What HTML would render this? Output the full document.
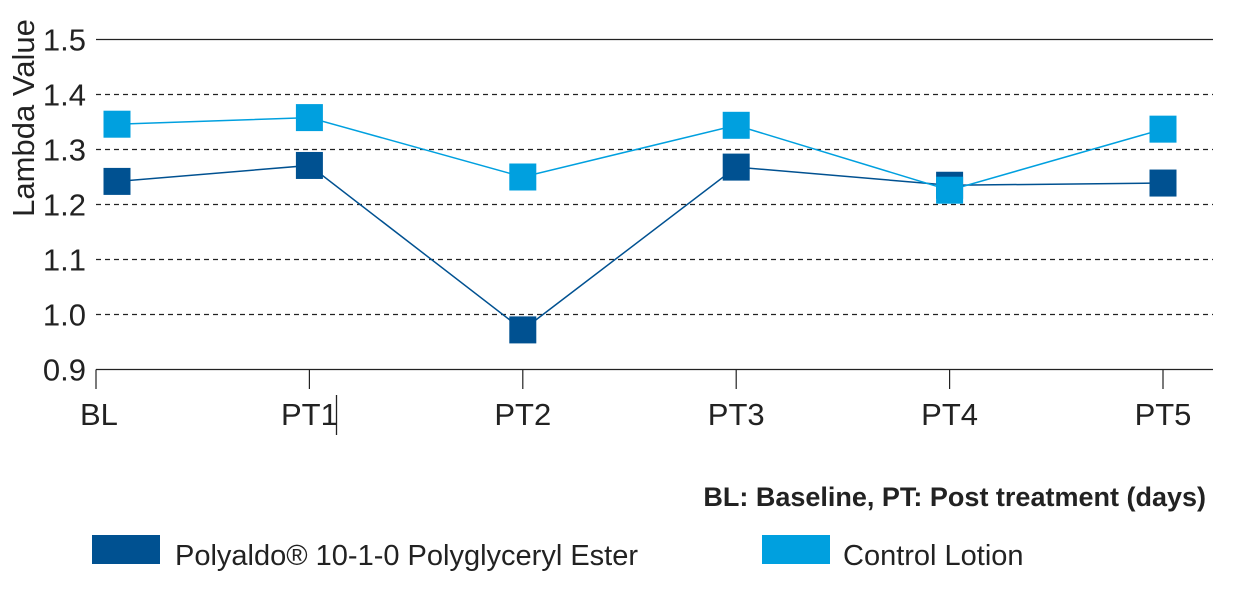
<!DOCTYPE html>
<html><head><meta charset="utf-8">
<style>
body{margin:0;background:#fff;}
svg text{font-family:"Liberation Sans Narrow","Liberation Sans",sans-serif;fill:#222;}
</style></head>
<body>
<svg id="chart" width="1244" height="592" viewBox="0 0 1244 592">
<g id="grid"></g>
<g id="yticks"></g>
<g id="xticks"></g>
<g id="series"></g>
<text transform="translate(34,118) rotate(-90)" text-anchor="middle" font-size="31">Lambda Value</text>
<line x1="336.5" y1="395" x2="336.5" y2="435" stroke="#222" stroke-width="1.3"/>
<text x="1206" y="506" text-anchor="end" font-size="27" font-weight="bold" style="fill:#222">BL: Baseline, PT: Post treatment (days)</text>
<g>
<rect x="92" y="535" width="68" height="29" fill="#005191"/>
<text x="175" y="565" font-size="29">Polyaldo® 10-1-0 Polyglyceryl Ester</text>
</g>
<g>
<rect x="762" y="535" width="68" height="29" fill="#00a0df"/>
<text x="843" y="565" font-size="29">Control Lotion</text>
</g>
</svg>
<script>
const categories=["BL","PT1","PT2","PT3","PT4","PT5"];
const polyaldoValues=[1.242,1.271,0.972,1.268,1.235,1.239];
const controlValues=[1.346,1.358,1.250,1.344,1.226,1.337];
const yTicks=[0.9,1.0,1.1,1.2,1.3,1.4,1.5];
const yTickLabels=["0.9","1.0","1.1","1.2","1.3","1.4","1.5"];
const NS="http://www.w3.org/2000/svg";
const yMin=0.9,yMax=1.5,yBot=369.5,yTop=39.5;
const xLeft=96,xRight=1163;
function y(v){return yBot-(v-yMin)/(yMax-yMin)*(yBot-yTop);}
function x(i){return xLeft+i*(xRight-xLeft)/(categories.length-1);}
function mk(tag,attrs,parent){const e=document.createElementNS(NS,tag);for(const k in attrs)e.setAttribute(k,attrs[k]);parent.appendChild(e);return e;}
function px(i){return i===0?x(i)+21:x(i);}
const grid=document.getElementById('grid'),yt=document.getElementById('yticks'),xt=document.getElementById('xticks'),ser=document.getElementById('series');
yTicks.forEach((t,i)=>{
  const solid=(i===0||i===yTicks.length-1);
  const l=mk('line',{x1:96,x2:1213,y1:y(t),y2:y(t),stroke:'#222','stroke-width':1.2,'stroke-dasharray':solid?'none':'5,4'},grid);
  
  
  const tx=mk('text',{x:86,y:y(t)+11,'text-anchor':'end','font-size':31},yt);
  tx.textContent=yTickLabels[i];
  
  
});
categories.forEach((c,i)=>{
  const l=mk('line',{x1:x(i),x2:x(i),y1:yBot,y2:389,stroke:'#222','stroke-width':1.2},xt);
  
  
  const tx=mk('text',{x:i===0?x(i)-16:x(i),y:425,'text-anchor':i===0?'start':'middle','font-size':31},xt);
  tx.textContent=c;
  
  
});
function drawSeries(vals,color,name){
  const g=mk('g',{},ser);
  
  
  const p=mk('polyline',{points:vals.map((v,i)=>px(i)+','+y(v)).join(' '),fill:'none',stroke:color,'stroke-width':1.5},g);
  
  
  vals.forEach((v,i)=>{
    const r=mk('rect',{x:px(i)-13.5,y:y(v)-13.5,width:27,height:27,fill:color},g);
    
    
  });
}
drawSeries(polyaldoValues,'#005191','polyaldo');
drawSeries(controlValues,'#00a0df','control');
</script>
</body></html>
